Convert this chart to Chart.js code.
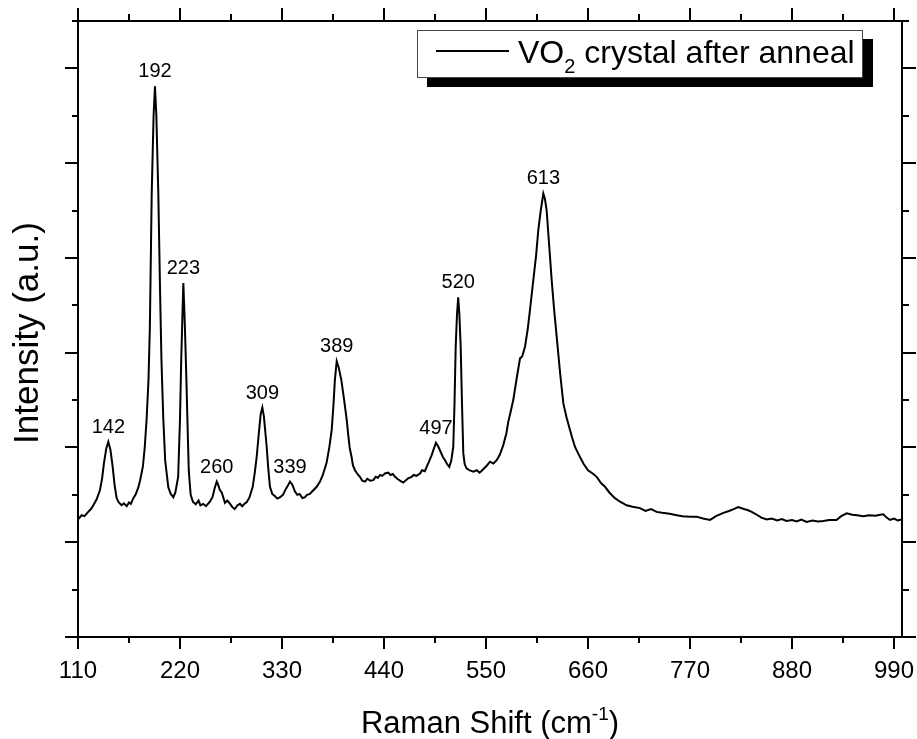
<!DOCTYPE html>
<html>
<head>
<meta charset="utf-8">
<script src="https://cdn.jsdelivr.net/npm/chart.js@4.4.1/dist/chart.umd.min.js"></script>
<style>
  body { margin: 0; background: #fff; }
  canvas { display: block; }
</style>
</head>
<body>
<canvas id="chart" width="917" height="739"></canvas>
<script>
// spectrum (x in cm-1, y in arbitrary units)
const ramanShift = [
  110.3, 114, 117, 121, 124, 126.5, 130, 133.7, 136, 138, 140.5, 142.7, 145, 147.4, 149.5, 151.7, 154, 157, 159.5, 162.5,
  165, 167, 169.7, 172, 175, 177, 180, 182, 184, 186, 187.5, 189.5, 191.5, 193, 194.5, 196.6, 198.5, 200, 202, 204,
  207.4, 210, 212.8, 215, 218, 220, 221.3, 223.6, 225.2, 226.8, 228.5, 229.5, 231.5, 234, 237, 240, 242, 245, 248, 252,
  255, 257.5, 259.6, 261, 263, 265, 268.5, 271, 274, 276.5, 279, 282, 284.7, 287, 290, 292, 295, 298.4, 300.5, 302.7,
  305, 307, 308.8, 310.5, 313.5, 315, 317, 319.5, 322.5, 325, 328, 331, 334, 336.5, 338.6, 341, 344, 346.5, 349, 352,
  354.8, 357, 360, 363, 367.4, 371, 374, 378, 381, 383.6, 385.5, 387, 389, 391, 394, 397, 399.8, 401.5, 403, 405,
  406.5, 408.7, 411, 414, 416.5, 419.5, 422, 425, 428.5, 431, 433.5, 435.7, 438, 441, 444.6, 447, 449.5, 451.9, 455, 458,
  460.8, 463, 466, 469.8, 472, 475, 478.8, 481, 484, 486, 488.5, 491.4, 493.5, 496, 498.5, 501, 503.5, 505.8, 508, 510.4,
  512.5, 514.7, 516, 517.3, 518.7, 520, 521.3, 522.7, 524, 525.5, 527, 529, 532, 536.3, 540, 543, 545.4, 548, 551, 554.3,
  558, 561.5, 565, 568.6, 572, 574, 576.5, 579.4, 583, 586.7, 589, 592, 595, 597.4, 601, 604, 606.4, 609, 611.8, 613.5,
  615.4, 618, 620.8, 623.5, 626.2, 630, 633.4, 637, 640.6, 643, 646, 650, 655, 660, 665, 669.4, 674, 678.3, 683, 689,
  695, 701.7, 708, 716, 722, 728, 734, 740, 748, 755.6, 762, 770, 777, 784, 791.6, 798, 806, 812, 817, 822,
  828, 832, 836.5, 842, 847, 852.7, 858, 864, 869, 874, 880, 885, 890, 895.8, 902, 908, 913.8, 920, 928, 933,
  939, 945, 950, 957, 963, 970, 975, 978.5, 982, 985.7, 990, 994, 998.3
];
const intensity = [
  2.49, 2.57, 2.55, 2.64, 2.70, 2.78, 2.90, 3.10, 3.35, 3.67, 3.98, 4.12, 3.95, 3.59, 3.20, 2.93, 2.84, 2.78, 2.82, 2.76,
  2.84, 2.81, 2.93, 3.00, 3.15, 3.31, 3.60, 4.01, 4.60, 5.42, 6.54, 9.37, 11.0, 11.62, 11.0, 9.37, 7.3, 5.84, 4.6, 3.73,
  3.16, 3.02, 2.95, 3.05, 3.38, 4.6, 5.84, 7.47, 6.6, 5.5, 4.2, 3.5, 3.0, 2.85, 2.80, 2.88, 2.78, 2.81, 2.76, 2.85,
  2.95, 3.15, 3.28, 3.22, 3.10, 3.05, 2.83, 2.88, 2.81, 2.74, 2.70, 2.78, 2.81, 2.76, 2.82, 2.85, 2.95, 3.17, 3.45, 3.80,
  4.30, 4.70, 4.84, 4.65, 4.01, 3.60, 3.17, 3.02, 2.97, 2.92, 2.95, 3.00, 3.12, 3.20, 3.28, 3.22, 3.07, 3.00, 3.02, 2.93,
  2.95, 3.00, 3.02, 3.08, 3.17, 3.28, 3.42, 3.67, 4.0, 4.37, 4.9, 5.42, 5.82, 5.70, 5.42, 5.0, 4.58, 4.25, 3.99, 3.80,
  3.62, 3.52, 3.45, 3.38, 3.30, 3.28, 3.34, 3.30, 3.31, 3.38, 3.36, 3.42, 3.40, 3.45, 3.47, 3.42, 3.44, 3.38, 3.33, 3.29,
  3.26, 3.30, 3.35, 3.38, 3.42, 3.40, 3.45, 3.52, 3.50, 3.59, 3.70, 3.84, 3.96, 4.10, 4.02, 3.91, 3.80, 3.73, 3.65, 3.59,
  3.72, 4.01, 4.9, 6.12, 6.8, 7.17, 6.8, 6.12, 5.0, 3.88, 3.65, 3.56, 3.52, 3.49, 3.52, 3.47, 3.51, 3.56, 3.62, 3.70,
  3.66, 3.73, 3.85, 4.05, 4.30, 4.54, 4.75, 5.0, 5.45, 5.88, 5.92, 6.12, 6.50, 6.90, 7.53, 8.05, 8.59, 9.0, 9.36, 9.25,
  9.0, 8.3, 7.53, 6.9, 6.34, 5.55, 4.93, 4.62, 4.37, 4.20, 4.01, 3.85, 3.66, 3.52, 3.45, 3.38, 3.25, 3.17, 3.05, 2.93,
  2.85, 2.78, 2.75, 2.72, 2.66, 2.70, 2.64, 2.62, 2.60, 2.57, 2.55, 2.54, 2.54, 2.50, 2.47, 2.55, 2.62, 2.66, 2.70, 2.74,
  2.70, 2.68, 2.64, 2.58, 2.52, 2.48, 2.50, 2.46, 2.49, 2.45, 2.47, 2.44, 2.48, 2.43, 2.46, 2.44, 2.45, 2.47, 2.47, 2.55,
  2.61, 2.58, 2.57, 2.55, 2.57, 2.56, 2.58, 2.59, 2.52, 2.47, 2.50, 2.46, 2.48
];

// peak annotations
const peakLabels = ["142", "192", "223", "260", "309", "339", "389", "497", "520", "613"];
const peakPositions = [142, 192, 223, 260, 309, 339, 389, 497, 520, 613];

// axes
const xTickValues = [110, 220, 330, 440, 550, 660, 770, 880, 990];
const xMin = 110, xMax = 998.6;
const yMin = 0, yMax = 13;

const FONT = "'Liberation Sans', Arial, sans-serif";

const points = ramanShift.map((x, i) => ({ x: x, y: intensity[i] }));

// frame, ticks, labels, legend, titles
const decorations = {
  id: "decorations",
  afterDraw(chart) {
    const ctx = chart.ctx;
    const a = chart.chartArea;
    const xs = chart.scales.x, ys = chart.scales.y;
    ctx.save();
    ctx.strokeStyle = "#000";
    ctx.fillStyle = "#000";
    ctx.lineWidth = 2;
    ctx.lineCap = "butt";

    // x ticks (bottom + top), major every 110 and minor halfway
    ctx.beginPath();
    for (let v = xTickValues[0]; v <= xMax; v += 55) {
      const px = Math.round(xs.getPixelForValue(v));
      const major = Math.round((v - xTickValues[0]) / 55) % 2 === 0;
      ctx.moveTo(px, a.bottom);
      ctx.lineTo(px, a.bottom + (major ? 12 : 6));
      ctx.moveTo(px, a.top);
      ctx.lineTo(px, a.top - (major ? 13 : 7));
    }
    // y ticks (left + right)
    for (let v = yMin; v <= yMax; v++) {
      const py = Math.round(ys.getPixelForValue(v));
      const major = v % 2 === 0;
      ctx.moveTo(a.left, py);
      ctx.lineTo(a.left - (major ? 13 : 6), py);
      ctx.moveTo(a.right, py);
      ctx.lineTo(a.right + (major ? 14 : 7), py);
    }
    ctx.stroke();
    ctx.strokeRect(a.left, a.top, a.right - a.left, a.bottom - a.top);

    // peak labels
    ctx.font = "20px " + FONT;
    ctx.textAlign = "center";
    ctx.textBaseline = "alphabetic";
    peakPositions.forEach((p, i) => {
      let best = -1;
      ramanShift.forEach((x, j) => {
        if (Math.abs(x - p) <= 6 && (best < 0 || intensity[j] > intensity[best])) best = j;
      });
      const px = xs.getPixelForValue(ramanShift[best]);
      const py = ys.getPixelForValue(intensity[best]);
      ctx.fillText(peakLabels[i], px, py - 9);
    });

    // legend with drop shadow
    const bx = a.right - 485, by = a.top + 9, bw = 446, bh = 48;
    ctx.fillRect(bx + 10, by + 9, bw, bh);
    ctx.fillStyle = "#fff";
    ctx.fillRect(bx, by, bw, bh);
    ctx.lineWidth = 1;
    ctx.strokeStyle = "#444";
    ctx.strokeRect(bx + 0.5, by + 0.5, bw - 1, bh - 1);
    ctx.strokeStyle = "#000";
    ctx.lineWidth = 2;
    ctx.beginPath();
    ctx.moveTo(bx + 19, by + 21);
    ctx.lineTo(bx + 92, by + 21);
    ctx.stroke();
    ctx.fillStyle = "#000";
    ctx.textAlign = "left";
    let tx = bx + 101;
    const base = by + 33;
    ctx.font = "32px " + FONT;
    ctx.fillText("VO", tx, base);
    tx += ctx.measureText("VO").width;
    ctx.font = "20px " + FONT;
    ctx.fillText("2", tx, base + 10);
    tx += ctx.measureText("2").width;
    ctx.font = "32px " + FONT;
    ctx.fillText(" crystal after anneal", tx, base);

    // x title with superscript
    const t1 = "Raman Shift (cm", sup = "-1", t2 = ")";
    ctx.font = "31px " + FONT;
    const w1 = ctx.measureText(t1).width, w3 = ctx.measureText(t2).width;
    ctx.font = "19px " + FONT;
    const w2 = ctx.measureText(sup).width;
    let sx = (a.left + a.right) / 2 - (w1 + w2 + w3) / 2;
    ctx.font = "31px " + FONT;
    ctx.fillText(t1, sx, 733);
    ctx.font = "19px " + FONT;
    ctx.fillText(sup, sx + w1, 720);
    ctx.font = "31px " + FONT;
    ctx.fillText(t2, sx + w1 + w2, 733);

    // y title
    ctx.translate(38, (a.top + a.bottom) / 2 + 4);
    ctx.rotate(-Math.PI / 2);
    ctx.textAlign = "center";
    ctx.font = "35px " + FONT;
    ctx.fillText("Intensity (a.u.)", 0, 0);
    ctx.restore();
  }
};

const chart = new Chart(document.getElementById("chart").getContext("2d"), {
  type: "line",
  data: {
    datasets: [{
      data: points,
      borderColor: "#000",
      borderWidth: 2,
      pointRadius: 0,
      tension: 0,
      fill: false
    }]
  },
  options: {
    responsive: false,
    animation: false,
    devicePixelRatio: 1,
    layout: { padding: { top: 21, right: 15, left: 0, bottom: 0 } },
    plugins: { legend: { display: false }, tooltip: { enabled: false } },
    scales: {
      x: {
        type: "linear",
        min: xMin,
        max: xMax,
        grid: { display: false, drawTicks: false },
        border: { display: false },
        afterBuildTicks: s => { s.ticks = xTickValues.map(v => ({ value: v })); },
        afterFit: s => { s.height = 102; s.paddingLeft = 0; s.paddingRight = 0; },
        ticks: {
          padding: 20,
          maxRotation: 0,
          autoSkip: false,
          color: "#000",
          font: { family: FONT, size: 24 },
          callback: v => String(v)
        }
      },
      y: {
        type: "linear",
        min: yMin,
        max: yMax,
        grid: { display: false, drawTicks: false },
        border: { display: false },
        ticks: { display: false },
        afterFit: s => { s.width = 78; s.paddingTop = 0; s.paddingBottom = 0; }
      }
    }
  },
  plugins: [decorations]
});
</script>
</body>
</html>
